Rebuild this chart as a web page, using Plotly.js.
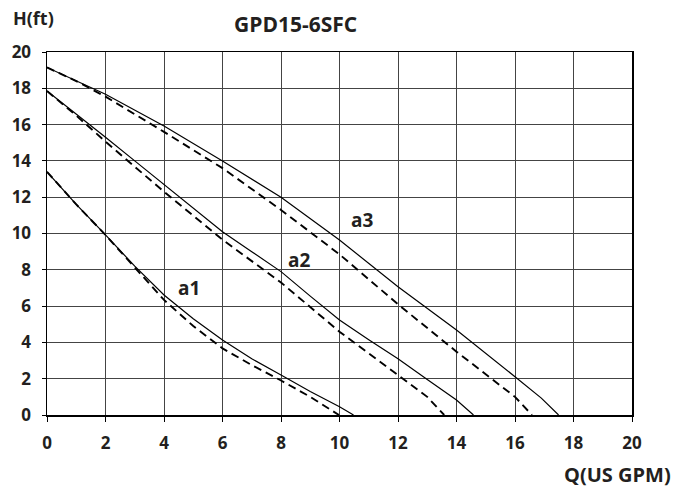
<!DOCTYPE html>
<html>
<head>
<meta charset="utf-8">
<script src="https://cdn.plot.ly/plotly-3.0.1.min.js"></script>
<style>html,body{margin:0;padding:0;background:#fff;}#chart{width:675px;height:493px;}</style>
</head>
<body>
<div id="chart"></div>
<script>
const a1SolidQ = [0, 1, 2, 3, 4, 5, 6, 7, 8, 9, 10, 10.48];
const a1SolidH = [13.4, 11.6, 9.92, 8.2, 6.61, 5.3, 4.13, 3.1, 2.2, 1.3, 0.46, 0];
const a1DashQ = [0, 1, 2, 3, 4, 5, 6, 7, 8, 9, 9.98];
const a1DashH = [13.4, 11.6, 9.92, 8.15, 6.34, 4.9, 3.67, 2.75, 1.9, 1.0, 0];

const a2SolidQ = [0, 1, 2, 3, 4, 5, 6, 7, 8, 9, 10, 11, 12, 13, 14, 14.58];
const a2SolidH = [17.85, 16.6, 15.3, 14.0, 12.7, 11.4, 10.1, 9.0, 7.9, 6.55, 5.23, 4.15, 3.1, 1.95, 0.83, 0];
const a2DashQ = [0, 1, 2, 4, 6, 8, 10, 12, 13, 13.58];
const a2DashH = [17.85, 16.5, 15.06, 12.3, 9.66, 7.3, 4.59, 2.2, 1.0, 0];

const a3SolidQ = [0, 2, 4, 6, 8, 10, 12, 14, 16, 16.9, 17.49];
const a3SolidH = [19.15, 17.67, 15.92, 14.0, 12.0, 9.64, 7.07, 4.68, 2.11, 0.93, 0];
const a3DashQ = [0, 1, 2, 4, 6, 8, 10, 12, 14, 16, 16.58];
const a3DashH = [19.15, 18.4, 17.54, 15.6, 13.6, 11.3, 8.85, 6.1, 3.49, 1.0, 0];

const curveLabels = ["a1", "a2", "a3"];
const labelQ = [4.84, 8.6, 10.77];
const labelH = [6.98, 8.54, 10.74];

const xTicks = [0, 2, 4, 6, 8, 10, 12, 14, 16, 18, 20];
const yTicks = [0, 2, 4, 6, 8, 10, 12, 14, 16, 18, 20];

const chartTitle = "GPD15-6SFC";
const yTitle = "H(ft)";
const xTitle = "Q(US GPM)";

const ink = "#231f20";
const fontFam = "Open Sans";

function solid(x, y) {
  return {x: x, y: y, mode: "lines", type: "scatter", line: {color: "#000", width: 1.2}, hoverinfo: "skip", showlegend: false};
}
function dashed(x, y) {
  return {x: x, y: y, mode: "lines", type: "scatter", line: {color: "#000", width: 1.9, dash: "8px,5px"}, hoverinfo: "skip", showlegend: false};
}

const traces = [
  solid(a1SolidQ, a1SolidH), dashed(a1DashQ, a1DashH),
  solid(a2SolidQ, a2SolidH), dashed(a2DashQ, a2DashH),
  solid(a3SolidQ, a3SolidH), dashed(a3DashQ, a3DashH)
];

const L = 47, R = 632, T = 52, B = 415, W = 675, H = 493;
function px(xp) { return (xp - L) / (R - L); }
function py(yp) { return (B - yp) / (B - T); }

const annotations = curveLabels.map((t, i) => ({
  x: labelQ[i], y: labelH[i], xref: "x", yref: "y", text: "<b>" + t + "</b>",
  showarrow: false, font: {family: fontFam, size: 19, color: ink}
}));
annotations.push({x: px(295), y: py(24), xref: "paper", yref: "paper", xanchor: "center", yanchor: "middle",
  text: "<b>" + chartTitle + "</b>", showarrow: false, font: {family: fontFam, size: 21, color: ink}});
annotations.push({x: px(33), y: py(18), xref: "paper", yref: "paper", xanchor: "center", yanchor: "middle",
  text: "<b>" + yTitle + "</b>", showarrow: false, font: {family: fontFam, size: 18, color: ink}});
annotations.push({x: px(673), y: py(474), xref: "paper", yref: "paper", xanchor: "right", yanchor: "middle",
  text: "<b>" + xTitle + "</b>", showarrow: false, font: {family: fontFam, size: 20, color: ink}});

const tickFont = {family: fontFam, size: 17, weight: 700, color: ink};

const layout = {
  width: W, height: H,
  font: {family: fontFam, color: ink},
  margin: {l: L, r: W - R, t: T, b: H - B, pad: 0},
  paper_bgcolor: "#fff", plot_bgcolor: "#fff",
  showlegend: false,
  xaxis: {
    range: [0, 20], tickmode: "array", tickvals: xTicks, ticktext: xTicks.map(String),
    showgrid: true, gridcolor: "#444", gridwidth: 1,
    showline: true, linecolor: "#000", linewidth: 1.5, mirror: true,
    ticks: "outside", ticklen: 5, tickcolor: "#000", tickwidth: 1,
    ticklabelstandoff: 7,
    tickfont: tickFont, zeroline: false, fixedrange: true
  },
  yaxis: {
    range: [0, 20], tickmode: "array", tickvals: yTicks, ticktext: yTicks.map(String),
    showgrid: true, gridcolor: "#444", gridwidth: 1,
    showline: true, linecolor: "#000", linewidth: 1.5, mirror: true,
    ticks: "outside", ticklen: 4, tickcolor: "#000", tickwidth: 1,
    ticklabelstandoff: 7,
    tickfont: tickFont, zeroline: false, fixedrange: true
  },
  annotations: annotations
};

Plotly.newPlot("chart", traces, layout, {staticPlot: true, displayModeBar: false});
</script>
</body>
</html>
